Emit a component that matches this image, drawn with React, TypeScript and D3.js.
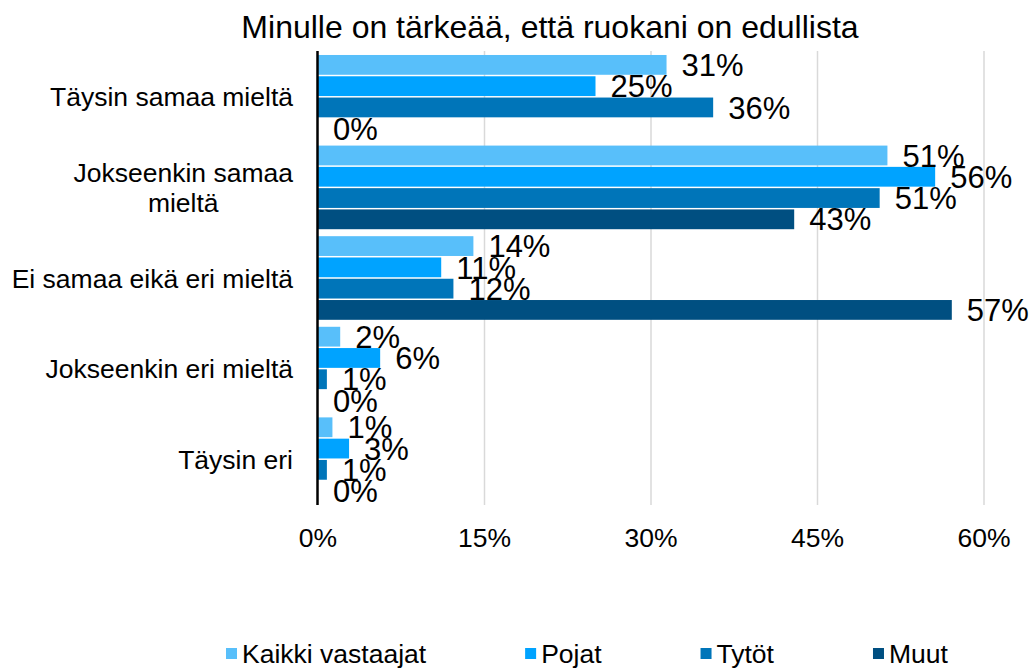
import React, { useRef, useEffect } from "react";
import * as d3 from "d3";

const title = "Minulle on tärkeää, että ruokani on edullista";
const categories = [
  "Täysin samaa mieltä",
  "Jokseenkin samaa mieltä",
  "Ei samaa eikä eri mieltä",
  "Jokseenkin eri mieltä",
  "Täysin eri",
];
const seriesNames = ["Kaikki vastaajat", "Pojat", "Tytöt", "Muut"];
const seriesColors = ["#58BFFA", "#00A3FF", "#0075B9", "#004F81"];
// values in percent, one array per series, in category order
const kaikki = [31.4, 51.3, 14.0, 2.0, 1.3];
const pojat = [25.0, 55.6, 11.1, 5.6, 2.8];
const tytot = [35.6, 50.6, 12.2, 0.8, 0.8];
const muut = [0, 42.9, 57.1, 0, 0];
const xTicks = [0, 15, 30, 45, 60];

const FONT = "'Liberation Sans', Arial, sans-serif";

const Chart = () => {
  const svgRef = useRef<SVGSVGElement>(null);

  useEffect(() => {
    const width = 1033;
    const height = 668;
    const margin = { top: 51, right: 49, bottom: 163, left: 318 };
    const values = [kaikki, pojat, tytot, muut];

    const svg = d3
      .select(svgRef.current)
      .attr("width", width)
      .attr("height", height)
      .html("");

    const x = d3
      .scaleLinear()
      .domain([0, 60])
      .range([margin.left, width - margin.right]);

    const y = d3
      .scaleBand<string>()
      .domain(categories)
      .range([margin.top, height - margin.bottom])
      .paddingInner(0.077)
      .paddingOuter(0.044);

    const ySub = d3
      .scaleBand<number>()
      .domain(d3.range(seriesNames.length))
      .range([0, y.bandwidth()])
      .paddingInner(0.07);

    // title
    svg
      .append("text")
      .attr("x", 550)
      .attr("y", 38)
      .attr("text-anchor", "middle")
      .attr("font-family", FONT)
      .attr("font-size", 32)
      .text(title);

    // gridlines
    svg
      .append("g")
      .selectAll("line")
      .data(xTicks.filter((t) => t > 0))
      .join("line")
      .attr("x1", (d) => x(d))
      .attr("x2", (d) => x(d))
      .attr("y1", margin.top)
      .attr("y2", height - margin.bottom)
      .attr("stroke", "#D9D9D9")
      .attr("stroke-width", 1.5);

    // tick labels
    svg
      .append("g")
      .selectAll("text")
      .data(xTicks)
      .join("text")
      .attr("x", (d) => x(d))
      .attr("y", 547)
      .attr("text-anchor", "middle")
      .attr("font-family", FONT)
      .attr("font-size", 26.5)
      .text((d) => d + "%");

    // bars
    values.forEach((vals, si) => {
      const g = svg.append("g");
      g.selectAll("rect")
        .data(vals)
        .join("rect")
        .attr("x", x(0))
        .attr("y", (_, i) => (y(categories[i]) as number) + (ySub(si) as number))
        .attr("width", (d) => x(d) - x(0))
        .attr("height", ySub.bandwidth())
        .attr("fill", seriesColors[si]);
    });

    // value labels
    values.forEach((vals, si) => {
      svg
        .append("g")
        .selectAll("text")
        .data(vals)
        .join("text")
        .attr("x", (d) => x(d) + 15)
        .attr(
          "y",
          (_, i) =>
            (y(categories[i]) as number) + (ySub(si) as number) + ySub.bandwidth() / 2
        )
        .attr("dy", "0.36em")
        .attr("font-family", FONT)
        .attr("font-size", 31)
        .text((d) => Math.round(d) + "%");
    });

    // axis line
    svg
      .append("line")
      .attr("x1", x(0) - 0.5)
      .attr("x2", x(0) - 0.5)
      .attr("y1", margin.top)
      .attr("y2", height - margin.bottom)
      .attr("stroke", "#000")
      .attr("stroke-width", 2.5);

    // category labels, wrapped like Excel does
    const maxLabelWidth = 290;
    const labelRight = 293;
    const lineHeight = 30;
    const catG = svg.append("g").attr("font-family", FONT).attr("font-size", 26.5);
    const measure = (s: string) => {
      const t = catG.append("text").text(s);
      const len = (t.node() as SVGTextElement).getComputedTextLength();
      t.remove();
      return len;
    };
    categories.forEach((cat) => {
      let lines = [cat];
      if (measure(cat) > maxLabelWidth) {
        lines = [];
        let cur = "";
        cat.split(" ").forEach((w) => {
          const test = cur ? cur + " " + w : w;
          if (measure(test) > maxLabelWidth && cur) {
            lines.push(cur);
            cur = w;
          } else cur = test;
        });
        lines.push(cur);
      }
      const blockW = d3.max(lines.map(measure)) as number;
      const cx = labelRight - blockW / 2;
      const cy = (y(cat) as number) + y.bandwidth() / 2;
      lines.forEach((l, li) => {
        catG
          .append("text")
          .attr("x", cx)
          .attr("y", cy + (li - (lines.length - 1) / 2) * lineHeight)
          .attr("dy", "0.36em")
          .attr("text-anchor", "middle")
          .text(l);
      });
    });

    // legend
    const legend = svg.append("g").attr("font-family", FONT).attr("font-size", 26.5);
    let lx = 226;
    const ly = 653;
    seriesNames.forEach((name, si) => {
      legend
        .append("rect")
        .attr("x", lx)
        .attr("y", ly - 5)
        .attr("width", 11)
        .attr("height", 11)
        .attr("fill", seriesColors[si]);
      const t = legend
        .append("text")
        .attr("x", lx + 16)
        .attr("y", ly)
        .attr("dy", "0.36em")
        .text(name);
      const w = (t.node() as SVGTextElement).getComputedTextLength();
      lx += 16 + w + 99;
    });
  }, []);

  return (
    <svg
      ref={svgRef}
      style={{ position: "absolute", left: 0, top: 0, background: "#fff" }}
    />
  );
};

export default function App() {
  return <Chart />;
}
